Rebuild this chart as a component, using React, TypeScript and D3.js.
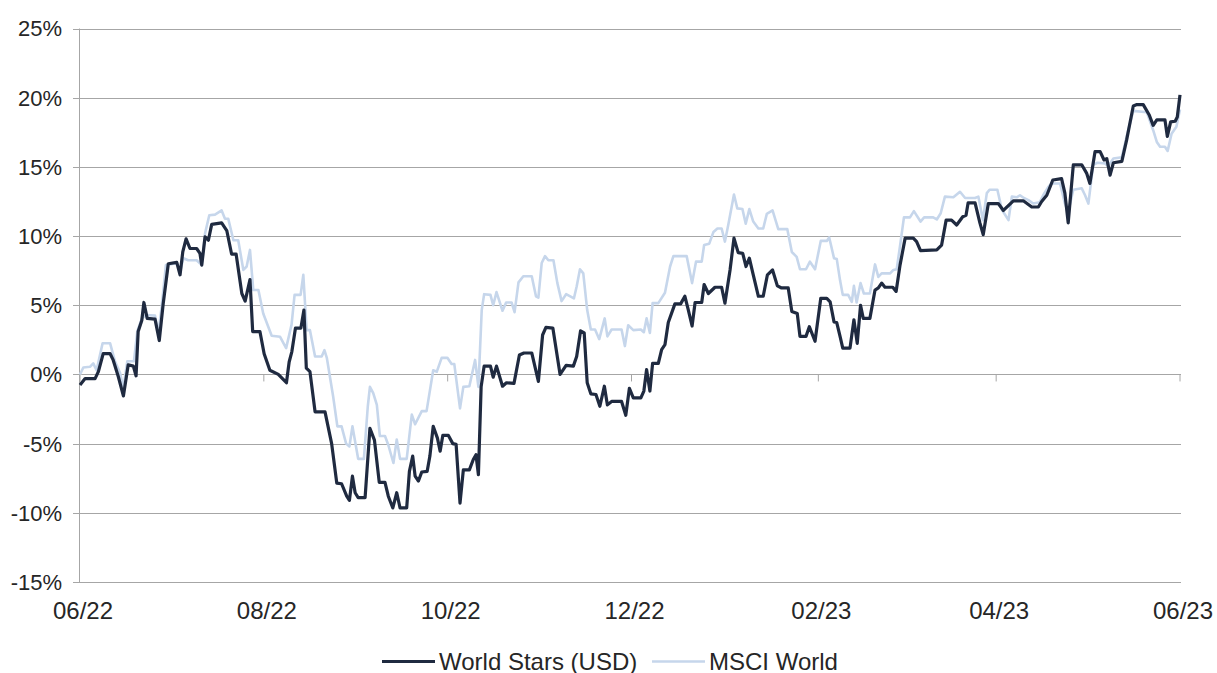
import React from 'react';
import * as d3 from 'd3';

// Day offsets from 2022-06-01 and cumulative performance (%)
const starsDays = [0,1.7,5.0,6.1,7.7,10.0,11.0,12.7,14.4,16.0,17.7,18.6,19.3,20.5,21.2,22.3,24.9,26.3,27.6,29.3,32.1,33.2,34.1,35.2,36.5,38.7,39.8,40.4,41.5,42.6,43.7,47.0,48.7,50.3,51.8,53.7,54.8,56.4,57.3,59.7,61.1,63.0,65.8,68.5,69.4,70.3,71.5,73.3,74.3,75.1,76.3,78.0,81.3,83.5,85.2,86.8,88.5,89.4,90.4,91.3,92.3,94.6,96.2,97.7,99.3,101.2,102.3,103.8,105.1,106.2,108.4,109.3,110.4,111.2,112.3,113.4,115.2,116.1,117.2,118.6,119.5,120.4,122.2,123.7,124.8,126.1,127.2,129.2,130.5,131.4,132.2,133.1,134.1,136.2,137.1,138.2,140.2,141.5,144.0,145.8,147.3,149.9,152.1,153.5,154.6,156.9,159.3,161.3,163.7,164.8,166.1,167.3,168.3,169.5,171.2,172.5,174.0,175.0,176.4,179.7,181.1,182.3,183.6,186.1,187.1,188.0,189.1,190.0,191.9,193.0,194.1,195.2,197.4,199.3,200.7,201.8,203.1,204.1,206.3,207.1,208.5,210.7,212.9,214.0,215.7,217.0,218.4,219.9,221.0,222.1,223.4,225.1,226.7,228.1,229.8,231.4,232.8,235.0,236.2,238.0,238.9,240.9,242.0,243.9,245.8,247.8,248.9,250.2,251.1,252.2,253.1,255.5,256.8,257.9,259.0,259.9,262.1,263.8,264.9,266.0,267.1,269.7,270.8,272.1,273.8,276.5,277.6,278.9,284.3,285.9,287.4,289.2,290.9,292.9,294.0,294.7,297.0,298.6,299.7,301.4,304.7,306.4,309.7,313.0,315.8,318.0,319.1,320.8,322.8,325.7,326.8,327.9,329.6,332.4,334.0,335.1,336.8,338.5,339.8,340.7,341.8,342.9,345.7,347.3,349.5,350.7,352.8,354.8,356.1,357.3,360.0,360.8,361.9,363.4,364.1,365.0];
const starsValues = [-0.76,-0.3,-0.3,0.2,1.5,1.5,1.05,-0.15,-1.55,0.7,0.6,-0.1,3.1,3.9,5.2,4.05,4.0,2.45,5.1,8.0,8.1,7.2,8.85,9.8,9.1,9.1,8.75,7.9,9.95,9.7,10.85,10.95,10.4,8.7,8.7,5.85,5.3,6.85,3.1,3.1,1.5,0.3,0.0,-0.6,0.9,1.65,3.35,3.35,4.65,0.45,0.2,-2.7,-2.7,-5.0,-7.85,-7.9,-8.8,-9.1,-7.35,-8.55,-8.9,-8.9,-3.9,-4.75,-7.8,-7.8,-8.8,-9.65,-8.55,-9.65,-9.65,-7.0,-5.9,-7.35,-7.7,-7.05,-7.0,-5.9,-3.75,-4.6,-5.55,-4.4,-4.4,-5.0,-5.05,-9.3,-6.9,-6.9,-6.15,-5.8,-7.25,-0.9,0.6,0.6,-0.2,0.6,-0.85,-0.6,-0.65,1.4,1.55,1.55,-0.5,2.85,3.4,3.35,0.0,0.65,0.6,1.3,3.15,3.0,-0.6,-1.4,-1.45,-2.3,-0.85,-2.2,-1.95,-1.95,-2.95,-1.0,-1.7,-1.7,-1.2,0.35,-1.2,0.8,0.8,1.8,2.15,3.75,5.1,5.1,5.65,4.7,3.5,5.2,5.2,6.5,5.85,6.3,6.3,5.15,7.55,9.85,8.8,8.75,7.8,8.4,7.2,5.65,5.65,7.2,7.55,6.4,6.25,6.25,4.55,4.4,2.75,2.75,3.45,2.4,5.5,5.5,5.25,3.8,3.75,2.75,1.9,1.9,3.95,2.25,5.0,4.05,4.05,6.1,6.25,6.6,6.3,6.3,6.0,7.9,9.85,9.85,9.6,8.95,9.0,9.35,11.15,11.15,10.8,11.4,11.5,12.4,12.4,10.95,10.1,12.35,12.35,11.85,12.55,12.55,12.1,12.1,12.5,12.95,14.05,14.15,13.1,10.95,15.15,15.15,14.55,13.8,16.1,16.1,15.5,15.6,14.4,15.3,15.4,16.95,19.4,19.5,19.5,18.75,18.0,18.4,18.4,17.2,18.25,18.3,18.6,20.2];

const msciDays = [0,1.1,3.3,4.4,5.5,7.5,10.0,11.6,13.3,14.4,15.7,17.9,19.0,20.5,21.9,24.9,26.0,27.1,28.5,31.0,32.3,33.2,34.3,35.9,38.7,40.4,41.5,42.9,44.8,47.0,48.1,49.2,50.9,52.5,54.2,55.3,56.4,57.5,59.2,60.8,63.6,66.4,68.4,70.2,71.2,73.2,74.1,75.2,76.3,78.0,80.2,81.1,81.9,84.0,85.4,86.8,88.3,89.4,90.4,92.3,94.2,95.5,96.2,97.3,98.5,99.5,101.2,102.3,104.0,105.1,106.2,108.4,110.1,111.2,113.4,115.0,117.2,118.4,120.0,121.9,123.3,124.2,126.1,127.2,129.2,131.1,132.2,133.3,134.1,136.2,137.1,138.2,140.2,141.4,143.2,144.2,145.5,147.1,149.9,151.3,152.1,153.2,154.3,155.4,157.1,158.4,159.8,161.3,163.9,164.8,165.9,167.0,168.3,169.5,170.9,172.3,174.1,175.0,176.4,179.7,180.8,181.9,183.6,186.1,187.1,188.0,189.1,190.0,191.9,194.1,195.8,196.9,201.3,203.1,204.4,206.3,207.1,208.8,210.2,211.5,212.9,214.0,215.1,217.0,218.1,219.8,220.9,222.1,223.4,225.1,226.7,227.9,229.8,231.7,234.7,236.2,237.8,238.9,240.9,242.2,243.9,245.8,247.8,248.6,250.2,251.1,252.2,253.1,254.9,256.1,256.8,257.7,259.0,260.1,262.1,263.8,264.9,266.0,268.8,269.9,271.0,272.3,273.4,275.4,276.7,278.9,280.1,283.1,284.3,285.6,287.0,289.8,292.0,293.7,297.0,298.1,299.6,300.9,301.8,304.4,305.9,308.1,309.2,310.8,311.9,313.2,314.7,316.3,318.5,319.6,321.3,322.4,325.2,326.8,327.9,329.6,332.4,333.5,334.6,336.2,337.6,340.1,341.2,342.9,345.7,347.3,349.5,354.0,356.1,357.3,358.4,360.0,360.9,362.2,363.8,365.0];
const msciValues = [0.0,0.5,0.55,0.8,0.3,2.25,2.25,0.95,0.1,-1.0,0.95,0.95,3.1,4.05,4.3,4.25,3.0,4.9,7.9,8.0,8.0,7.4,8.4,8.25,8.25,7.9,10.2,11.5,11.55,11.85,11.25,11.25,9.7,9.7,7.55,7.8,9.0,6.1,6.1,4.4,2.8,2.72,1.9,3.6,5.75,5.75,7.2,3.2,3.2,1.3,1.3,1.75,1.2,-1.6,-3.75,-3.75,-5.0,-5.2,-3.75,-6.1,-6.1,-2.3,-0.9,-1.35,-2.2,-4.45,-4.45,-5.1,-6.4,-4.7,-6.1,-6.1,-2.9,-3.6,-2.65,-2.65,0.3,0.2,1.2,1.2,0.75,0.75,-2.45,-0.9,-0.85,1.05,-0.9,4.65,5.8,5.75,5.0,5.95,4.6,5.2,5.2,4.5,6.65,7.1,7.1,5.65,5.55,8.05,8.55,8.25,8.25,6.6,5.3,5.8,5.5,6.35,7.6,7.3,4.65,3.25,3.25,2.55,4.05,2.75,3.25,3.25,2.05,3.55,3.2,3.25,3.05,4.05,3.0,5.15,5.15,5.9,7.8,8.55,8.55,6.6,8.15,8.15,9.35,9.45,10.3,10.55,10.55,9.6,10.8,13.0,12.0,11.95,10.9,11.95,11.05,10.55,10.55,11.6,11.85,10.5,10.5,8.85,8.5,7.6,7.6,8.15,7.6,9.65,9.65,9.9,8.4,8.35,6.8,5.75,5.75,5.25,6.4,5.2,6.6,5.85,5.85,7.95,7.05,7.3,7.3,7.55,7.6,9.6,11.35,11.35,11.8,11.05,11.35,11.35,11.2,11.65,12.85,12.8,13.2,12.75,12.75,12.85,11.15,13.1,13.35,13.35,11.9,11.15,12.85,12.8,12.95,12.75,12.6,12.35,12.45,12.95,13.55,13.8,13.8,12.35,11.75,13.35,13.45,12.95,12.35,15.15,15.3,15.25,15.05,15.6,15.7,17.2,19.05,18.95,17.65,16.8,16.45,16.45,16.15,17.4,17.9,19.15];

const yTicks = [-15, -10, -5, 0, 5, 10, 15, 20, 25];
const seriesNames = ['World Stars (USD)', 'MSCI World'];
const seriesColors = ['#1f2a40', '#c6d6eb'];

const START = Date.UTC(2022, 5, 1);
const END = Date.UTC(2023, 5, 1);
const DAY = 864e5;

const W = 1217;
const H = 673;
const margin = { left: 80, right: 37, top: 28.5, bottom: 91 };

export default function App() {
  const x = d3.scaleUtc().domain([new Date(START), new Date(END)]).range([margin.left, W - margin.right]);
  const y = d3.scaleLinear().domain([-15, 25]).range([H - margin.bottom, margin.top]);
  const xTicks = d3.utcMonth.range(new Date(START), new Date(END + DAY), 2);
  const fmt = d3.utcFormat('%m/%y');

  const toPts = (days: number[], vals: number[]) => days.map((d, i) => [new Date(START + d * DAY), vals[i]] as [Date, number]);
  const line = d3.line<[Date, number]>().x(d => x(d[0])).y(d => y(d[1]));
  const stars = line(toPts(starsDays, starsValues)) || '';
  const msci = line(toPts(msciDays, msciValues)) || '';

  const x0 = margin.left;
  const x1 = W - margin.right + 1;
  const grid = '#a6a6a6';
  const font = '"Liberation Sans", Arial, sans-serif';

  return (
    <svg width={W} height={H} style={{ position: 'absolute', left: 0, top: 0, background: '#fff' }} fontFamily={font}>
      {yTicks.map(t => (
        <g key={t}>
          <line x1={x0 - 7} x2={x1} y1={Math.round(y(t)) + 0.5} y2={Math.round(y(t)) + 0.5} stroke={grid} strokeWidth={1} />
          <text x={62} y={y(t)} dy="0.36em" textAnchor="end" fontSize={22} fill="#262626">{t + '%'}</text>
        </g>
      ))}
      <line x1={x0 - 0.5} x2={x0 - 0.5} y1={y(25)} y2={y(-15)} stroke={grid} strokeWidth={1} />
      {xTicks.map((t, i) => (
        <g key={i}>
          <line x1={x(t)} x2={x(t)} y1={y(0)} y2={y(0) + 7} stroke={grid} strokeWidth={1} />
          <text x={x(t) + 3} y={619} textAnchor="middle" fontSize={24} fill="#262626">{fmt(t)}</text>
        </g>
      ))}
      <path d={msci} fill="none" stroke={seriesColors[1]} strokeWidth={2.6} strokeLinejoin="round" />
      <path d={stars} fill="none" stroke={seriesColors[0]} strokeWidth={3.2} strokeLinejoin="round" />
      <g>
        <line x1={382} x2={435} y1={661.5} y2={661.5} stroke={seriesColors[0]} strokeWidth={3.2} />
        <text x={439} y={669.5} fontSize={24} fill="#262626">{seriesNames[0]}</text>
        <line x1={652} x2={705} y1={661.5} y2={661.5} stroke={seriesColors[1]} strokeWidth={2.6} />
        <text x={709} y={669.5} fontSize={24} fill="#262626">{seriesNames[1]}</text>
      </g>
    </svg>
  );
}
